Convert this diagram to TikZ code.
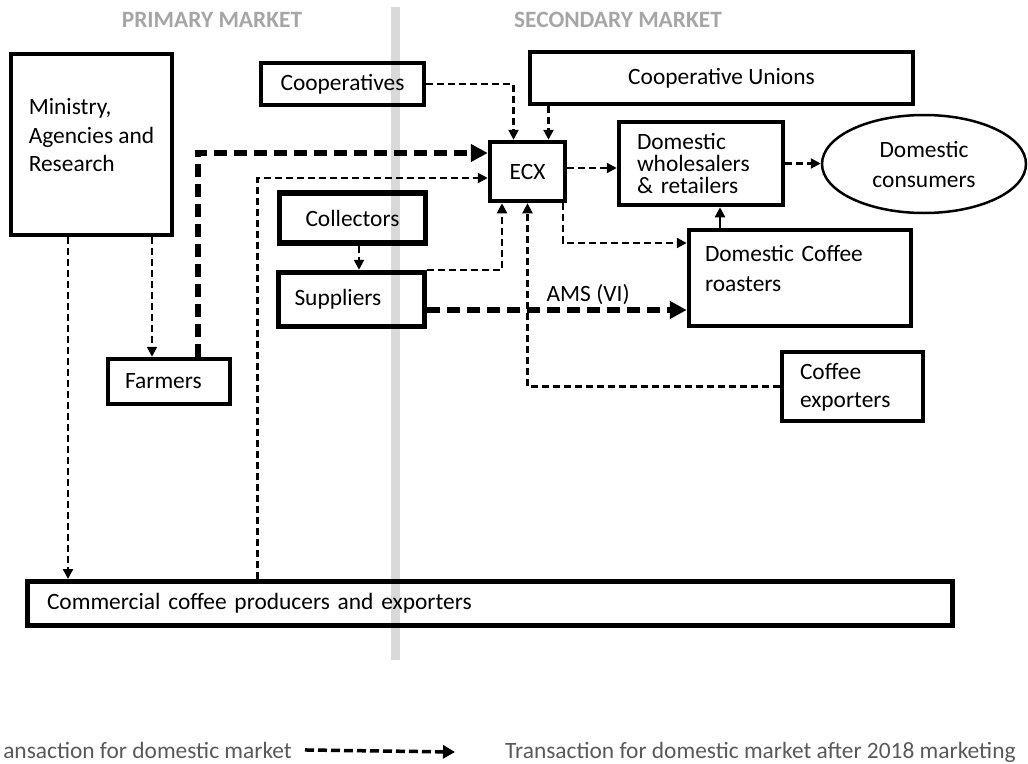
\documentclass[tikz,border=0pt]{standalone}
\usepackage{fontspec}
\setmainfont{Carlito}
\usetikzlibrary{shapes.geometric, arrows.meta, positioning}

\begin{document}
\begin{tikzpicture}[x=1pt, y=-1pt,
    font=\fontsize{23.4}{28.5}\selectfont,
    box/.style={draw, line width=4.5pt, inner sep=0pt},
    dline/.style={line width=2.2pt, dash pattern=on 7pt off 4pt, -{Triangle[length=10pt,width=10pt]}},
    tline/.style={line width=5.5pt, dash pattern=on 13pt off 7pt, -{Triangle[length=17pt,width=17pt]}},
    mkt/.style={font=\fontsize{23.4}{28}\selectfont\bfseries, text=black!35},
    legtext/.style={text=black!65, inner sep=0pt}]

\useasboundingbox (0,0) rectangle (1028,763);

% Market divide
\draw[black!15, line width=9pt] (395,7) -- (395,660);
\node[mkt] (prim) at (212,20) {PRIMARY MARKET};
\node[mkt] (sec) at (618,20) {SECONDARY MARKET};

% Actors
\node[box,
    minimum width=161pt,
    minimum height=181pt,
    align=left
] (minis) at (91.5,144.5) {Ministry,\\Agencies and\\Research\\[-10pt]\mbox{}};

\node[box,
    minimum width=163pt,
    minimum height=42pt
] (coop) at (342.5,84) {Cooperatives};

\node[box,
    minimum width=383pt,
    minimum height=52pt
] (unions) at (721.5,78) {Cooperative Unions};

\node[box,
    minimum width=75pt,
    minimum height=59pt
] (ecx) at (527.5,171.5) {ECX};

\node[box,
    minimum width=164pt,
    minimum height=83pt,
    text width=128pt, align=left,
    font=\fontsize{23.4}{22}\selectfont
] (whole) at (701,163.5) {Domestic\\wholesalers\\\& retailers};

\node[draw, ellipse, line width=2.5pt, inner sep=0pt,
    minimum width=204pt,
    minimum height=98pt,
    align=center,
    font=\fontsize{23.4}{30}\selectfont
] (cons) at (924,164) {Domestic\\consumers};

\node[box, line width=5.5pt,
    minimum width=146pt,
    minimum height=50pt
] (coll) at (352.5,218) {Collectors};

\node[box, line width=5.5pt,
    minimum width=146pt,
    minimum height=54pt,
    text width=114pt, align=left
] (supp) at (351.5,299.5) {Suppliers};

\node[box,
    minimum width=222pt,
    minimum height=96pt,
    text width=190pt, align=left,
    font=\fontsize{23.4}{30}\selectfont
] (roast) at (800,278) {Domestic Coffee\\roasters\\[-10pt]\mbox{}};

\node[box,
    minimum width=122pt,
    minimum height=45pt,
    text width=88pt, align=left
] (farm) at (169,381.5) {Farmers};

\node[box,
    minimum width=141pt,
    minimum height=69pt,
    text width=105pt, align=left,
    font=\fontsize{23.4}{28}\selectfont
] (cexp) at (852.5,386.5) {\mbox{}\\[-10pt]Coffee\\exporters};

\node[box, line width=5pt,
    minimum width=925pt,
    minimum height=44pt,
    text width=886pt, align=left
] (comm) at (490,603.5) {Commercial coffee producers and exporters};

% Arrows
\draw[dline] (coop.east) -| ([xshift=-14pt]ecx.north);
\draw[dline] ([xshift=21pt]ecx.north |- unions.south) -- ([xshift=21pt]ecx.north);
\draw[tline] ([xshift=29pt]farm.north) |- ([yshift=18.5pt]ecx.west);
\draw[dline] ([xshift=232.5pt]comm.north west) |- ([yshift=-6.5pt]ecx.west);
\draw[dline] ([xshift=60.5pt]minis.south) -- ([xshift=60.5pt]minis.south |- farm.north);
\draw[dline] ([xshift=-23.5pt]minis.south) -- ([xshift=-23.5pt]minis.south |- comm.north);
\draw[dline] ([yshift=3.5pt]ecx.east) -- ([yshift=3.5pt]ecx.east -| whole.west);
\draw[dline] (whole.east) -- (whole.east -| cons.west);
\draw[line width=2.2pt, -{Triangle[length=10pt,width=10pt]}] ([xshift=-80pt]roast.north) -- ([xshift=-80pt]roast.north |- whole.south);
\draw[dline] ([xshift=35.5pt]ecx.south) |- ([yshift=35pt]roast.west);
\draw[dline] (supp.north east) -| ([xshift=-25.5pt]ecx.south);
\draw[tline] ([yshift=-10.5pt]supp.east) -- ([yshift=-10.5pt]supp.east -| roast.west)
    node[pos=0.62, above=3pt, inner sep=0pt] (ams) {AMS (VI)};
\draw[dline] (cexp.west) -| (ecx.south);
\draw[dline] ([xshift=6.5pt]coll.south) -- ([xshift=6.5pt]coll.south |- supp.north);

% Legend
\node[legtext, anchor=base east] (leg1) at (292,758) {ansaction for domestic market};
\coordinate (legend end) at (455,752);
\draw[line width=3.5pt, dash pattern=on 9pt off 4pt, -{Triangle[length=12pt,width=13pt]}] ([xshift=13pt]leg1.east) -- (legend end);
\node[legtext, anchor=base west] (leg2) at (505,758) {Transaction for domestic market after 2018 marketing};
\end{tikzpicture}
\end{document}
